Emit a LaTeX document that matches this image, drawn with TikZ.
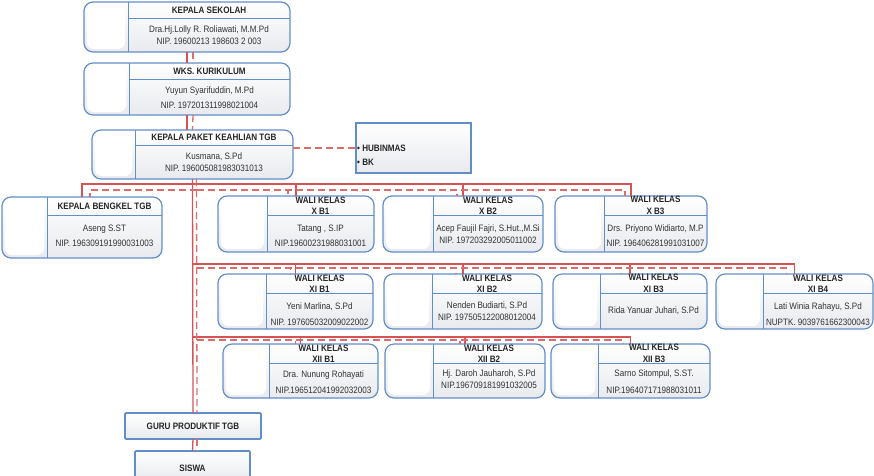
\documentclass[tikz,border=0pt]{standalone}
\usepackage{fontspec}
\setmainfont{Liberation Sans}[FakeStretch=0.87]
\definecolor{cardblue}{RGB}{98,142,200}
\definecolor{cardgray}{RGB}{232,234,238}
\definecolor{linkred}{RGB}{212,84,84}
\definecolor{textgray}{RGB}{50,50,50}
\tikzset{
  card/.style={draw=cardblue, line width=1.2pt, rounded corners=9pt, top color=white, bottom color=cardgray, inner sep=0pt, outer sep=0pt},
  plainbox/.style={draw=cardblue, line width=1.6pt, rounded corners=1pt, top color=white, bottom color=cardgray, inner sep=0pt, outer sep=0pt},
  photo/.style={fill=white, rounded corners=7pt},
  divider/.style={draw=cardblue, line width=1pt},
  head/.style={font=\bfseries\fontsize{9.3}{11.5}\selectfont, text=black!85, align=center, inner sep=0pt},
  body/.style={font=\fontsize{9.3}{12}\selectfont, text=textgray, align=center, inner sep=0pt},
  solidlink/.style={draw=linkred, line width=1.3pt},
  dashlink/.style={draw=linkred!85, line width=1.3pt, dash pattern=on 7pt off 4pt},
}
\begin{document}
\begin{tikzpicture}[x=1pt, y=-1pt]
            \useasboundingbox (0,0) rectangle (874,475);
            \clip (0,0) rectangle (874,475);

            %top boxes
            \node[card, minimum width=206, minimum height=50] (ks) at (187,27) {};
            \fill[photo] (87,5) rectangle (125,49);
            \draw[divider] (128,2) -- (128,52) (128,18) -- (290,18);
            \node[head] (ks-head) at (209,10) {KEPALA SEKOLAH};
            \node[body] (ks-body) at (209,35) {Dra.Hj.Lolly R. Roliawati, M.M.Pd\\NIP. 19600213 198603 2 003};

            \node[card, minimum width=206, minimum height=52] (wks) at (187,89) {};
            \fill[photo] (87,66) rectangle (126,112);
            \draw[divider] (129,63) -- (129,115) (129,79) -- (290,79);
            \node[head] (wks-head) at (209.5,71) {WKS. KURIKULUM};
            \node[body] (wks-body) at (209.5,97.5) {Yuyun Syarifuddin, M.Pd\\[3pt]NIP. 197201311998021004};

            \node[card, minimum width=201, minimum height=49] (tgb) at (192.5,154.5) {};
            \fill[photo] (95,133) rectangle (132,176);
            \draw[divider] (135,130) -- (135,179) (135,145) -- (293,145);
            \node[head] (tgb-head) at (214,137.5) {KEPALA PAKET KEAHLIAN TGB};
            \node[body] (tgb-body) at (214,162) {Kusmana, S.Pd\\NIP. 196005081983031013};

            \node[plainbox, line width=2pt, rounded corners=0pt, minimum width=115, minimum height=50] (hub) at (413.5,148) {};
            \node[head, anchor=west] (hub-a) at (357,148) {\textbullet\ HUBINMAS};
            \node[head, anchor=west] (hub-b) at (357,162) {\textbullet\ BK};

            %row x
            \node[card, minimum width=160, minimum height=61] (bengkel) at (82,227.5) {};
            \fill[photo] (5,200) rectangle (44,255);
            \draw[divider] (47,197) -- (47,258) (47,215) -- (162,215);
            \node[head] (bengkel-head) at (104.5,206) {KEPALA BENGKEL TGB};
            \node[body] (bengkel-body) at (104.5,235.5) {Aseng S.ST\\[3pt]NIP. 196309191990031003};

            \node[card, minimum width=156, minimum height=56] (xb1) at (296,224) {};
            \fill[photo] (221,199) rectangle (264,249);
            \draw[divider] (267,196) -- (267,252) (267,215) -- (374,215);
            \node[head] (xb1-head) at (320.5,205.5) {WALI KELAS\\X B1};
            \node[body] (xb1-body) at (320.5,235.5) {Tatang , S.IP\\[3pt]NIP.19600231988031001};

            \node[card, minimum width=160, minimum height=56] (xb2) at (463,224) {};
            \fill[photo] (386,199) rectangle (430,249);
            \draw[divider] (433,196) -- (433,252) (433,215) -- (543,215);
            \node[head] (xb2-head) at (488,205.5) {WALI KELAS\\X B2};
            \node[body] (xb2-body) at (488,234) {Acep Faujil Fajri, S.Hut.,M.Si\\NIP. 197203292005011002};

            \node[card, minimum width=152, minimum height=56] (xb3) at (631,224) {};
            \fill[photo] (558,199) rectangle (601,249);
            \draw[divider] (604,196) -- (604,252) (604,215) -- (707,215);
            \node[head] (xb3-head) at (655.5,205.5) {WALI KELAS\\X B3};
            \node[body] (xb3-body) at (655.5,235.5) {Drs. Priyono Widiarto, M.P\\[3pt]NIP. 196406281991031007};

            %row xi
            \node[card, minimum width=155, minimum height=55] (xib1) at (295.5,301.5) {};
            \fill[photo] (221,277) rectangle (263,326);
            \draw[divider] (266,274) -- (266,329) (266,293) -- (373,293);
            \node[head] (xib1-head) at (319.5,283.5) {WALI KELAS\\XI B1};
            \node[body] (xib1-body) at (319.5,314) {Yeni Marlina, S.Pd\\[4pt]NIP. 197605032009022002};

            \node[card, minimum width=158, minimum height=55] (xib2) at (463,301.5) {};
            \fill[photo] (387,277) rectangle (429,326);
            \draw[divider] (432,274) -- (432,329) (432,293) -- (542,293);
            \node[head] (xib2-head) at (487,283.5) {WALI KELAS\\XI B2};
            \node[body] (xib2-body) at (487,311.5) {Nenden Budiarti, S.Pd\\NIP. 197505122008012004};

            \node[card, minimum width=154, minimum height=55] (xib3) at (630,301.5) {};
            \fill[photo] (556,277) rectangle (597,326);
            \draw[divider] (600,274) -- (600,329) (600,293) -- (707,293);
            \node[head] (xib3-head) at (653.5,283.5) {WALI KELAS\\XI B3};
            \node[body] (xib3-body) at (653.5,311) {Rida Yanuar Juhari, S.Pd};

            \node[card, minimum width=157, minimum height=55] (xib4) at (794.5,301.5) {};
            \fill[photo] (719,277) rectangle (760,326);
            \draw[divider] (763,274) -- (763,329) (763,293) -- (873,293);
            \node[head] (xib4-head) at (818,283.5) {WALI KELAS\\XI B4};
            \node[body] (xib4-body) at (818,314) {Lati Winia Rahayu, S.Pd\\[4pt]NUPTK. 9039761662300043};

            %row xii
            \node[card, minimum width=155, minimum height=54] (xiib1) at (300.5,371) {};
            \fill[photo] (226,347) rectangle (266,395);
            \draw[divider] (269,344) -- (269,398) (269,363) -- (378,363);
            \node[head] (xiib1-head) at (323.5,353.5) {WALI KELAS\\XII B1};
            \node[body] (xiib1-body) at (323.5,382) {Dra. Nunung Rohayati\\[4pt]NIP.196512041992032003};

            \node[card, minimum width=160, minimum height=54] (xiib2) at (465,371) {};
            \fill[photo] (388,347) rectangle (430,395);
            \draw[divider] (433,344) -- (433,398) (433,363) -- (545,363);
            \node[head] (xiib2-head) at (489,353.5) {WALI KELAS\\XII B2};
            \node[body] (xiib2-body) at (489,379.5) {Hj. Daroh Jauharoh, S.Pd\\NIP.196709181991032005};

            \node[card, minimum width=159, minimum height=54] (xiib3) at (630.5,371) {};
            \fill[photo] (554,347) rectangle (595,395);
            \draw[divider] (598,344) -- (598,398) (598,363) -- (710,363);
            \node[head] (xiib3-head) at (654,353.5) {WALI KELAS\\XII B3};
            \node[body] (xiib3-body) at (654,381.5) {Sarno Sitompul, S.ST.\\[5pt]NIP.196407171988031011};

            %bottom boxes
            \node[plainbox, head, minimum width=136, minimum height=26] (guru) at (193,426) {GURU PRODUKTIF TGB};
            \node[plainbox, minimum width=115, minimum height=30] (siswa) at (192.5,466) {};
            \node[head] (siswa-text) at (192.5,468) {SISWA};

            %bus points
            \coordinate (bus1) at (193,184);
            \coordinate (bus2) at (193,264);
            \coordinate (bus3) at (193,337);
            \coordinate (dbus1) at (197,190);
            \coordinate (dbus2) at (197,268);
            \coordinate (dbus3) at (197,340);

            %solid edges
            \draw[solidlink] (ks.south) -- (wks.north);
            \draw[solidlink] (wks.south) -- (wks.south |- tgb.north);
            \draw[solidlink] (tgb.south) -- (guru.north);
            \draw[solidlink] (guru.south) -- (siswa.north);
            \draw[solidlink] (bus1) -| (bengkel.north);
            \draw[solidlink] (bus1) -| (xb1.north);
            \draw[solidlink] (bus1) -| (xb2.north);
            \draw[solidlink] (bus1) -| (xb3.north);
            \draw[solidlink] (bus2) -| (xib1.north);
            \draw[solidlink] (bus2) -| (xib2.north);
            \draw[solidlink] (bus2) -| (xib3.north);
            \draw[solidlink] (bus2) -| (xib4.north);
            \draw[solidlink] (bus3) -| (xiib1.north);
            \draw[solidlink] (bus3) -| (xiib2.north);
            \draw[solidlink] (bus3) -| (xiib3.north);

            %dashed edges
            \draw[dashlink] ([xshift=6]ks.south) -- ([xshift=6]wks.north);
            \draw[dashlink] ([xshift=6]wks.south) -- (tgb.north);
            \draw[dashlink] ([xshift=4]tgb.south) -- ([xshift=4]guru.north);
            \draw[dashlink] ([xshift=4]guru.south) -- ([xshift=4.5]siswa.north);
            \draw[dashlink] (hub.west -| tgb.east) -- (hub.west);
            \draw[dashlink] (dbus1) -| ([xshift=8]bengkel.north);
            \draw[dashlink] (dbus1) -| ([xshift=-8]xb1.north);
            \draw[dashlink] (dbus1) -| ([xshift=-6]xb2.north);
            \draw[dashlink] (dbus1) -| ([xshift=-6]xb3.north);
            \draw[dashlink] (dbus2) -| ([xshift=-5]xib1.north);
            \draw[dashlink] (dbus2) -| ([xshift=-7]xib2.north);
            \draw[dashlink] (dbus2) -| ([xshift=-9]xib3.north);
            \draw[dashlink] (dbus2) -| ([xshift=-8]xib4.north);
            \draw[dashlink] (dbus3) -| ([xshift=-5]xiib1.north);
            \draw[dashlink] (dbus3) -| ([xshift=-5]xiib2.north);
            \draw[dashlink] (dbus3) -| ([xshift=-7]xiib3.north);
        \end{tikzpicture}
\end{document}
